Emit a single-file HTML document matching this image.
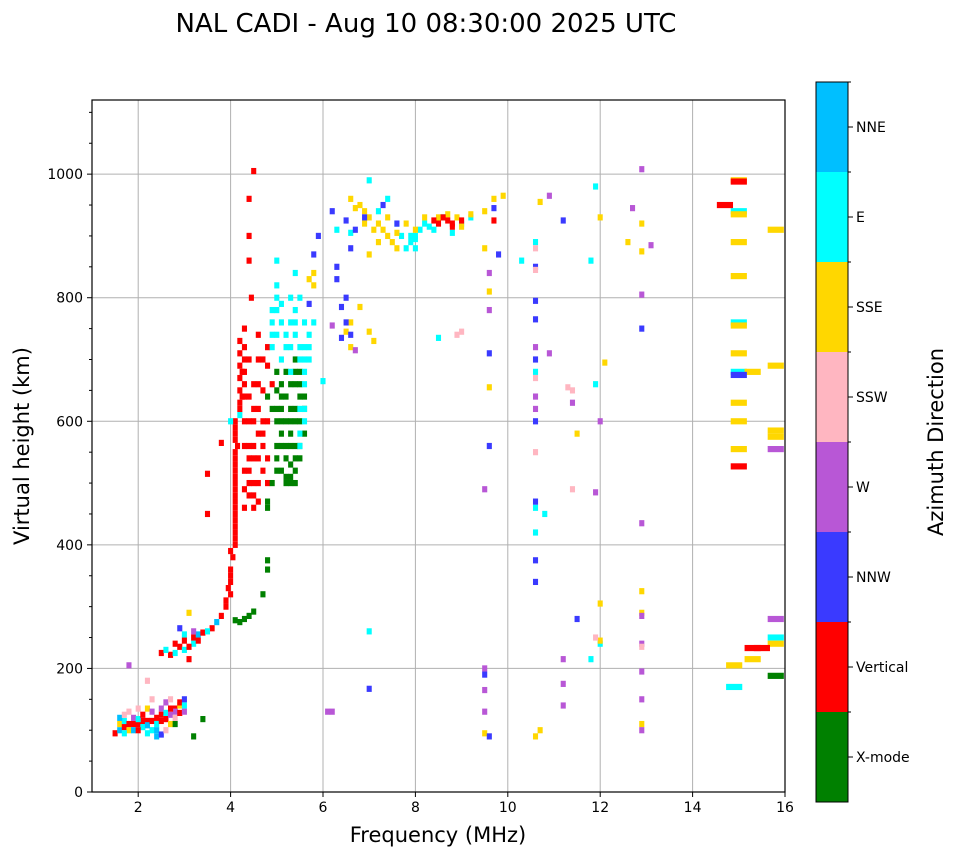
<!DOCTYPE html>
<html><head><meta charset="utf-8">
<style>
body{margin:0;background:#fff;}
svg{display:block;font-family:"DejaVu Sans","Liberation Sans",sans-serif;}
</style></head>
<body>
<svg id="chart" width="958" height="857" viewBox="0 0 958 857">
  <text x="426" y="32" font-size="26" text-anchor="middle">NAL CADI - Aug 10 08:30:00 2025 UTC</text>
  <g id="grid"></g>
  <g id="marks"></g>
  <rect x="92" y="100" width="693" height="692" fill="none" stroke="#000" stroke-width="1.2"/>
  <g id="axes"></g>
  <text x="438" y="842" font-size="21" text-anchor="middle">Frequency (MHz)</text>
  <text transform="translate(29,446) rotate(-90)" font-size="21" text-anchor="middle">Virtual height (km)</text>
  <g id="cbar"></g>
  <text transform="translate(943,442) rotate(-90)" font-size="21" text-anchor="middle">Azimuth Direction</text>
</svg>
<script>
const NS="http://www.w3.org/2000/svg";
const dirNames=["X-mode","Vertical","NNW","W","SSW","SSE","E","NNE"];
const dirColors=["#008000","#ff0000","#3a3aff","#b857d6","#ffb6c1","#ffd700","#00ffff","#00bfff"];
const xTicks=[2,4,6,8,10,12,14,16];
const yTicks=[0,200,400,600,800,1000];
// [frequency MHz, virtual height km, direction index]
const points=[
[1.5,95,1],[1.6,100,7],[1.6,110,5],[1.7,105,1],[1.7,115,6],[1.8,100,5],[1.8,130,4],[1.8,205,3],[1.9,110,1],[1.9,120,3],[2.0,110,1],[2.0,135,4],[2.1,105,6],[2.1,115,1],[2.2,115,1],[2.2,135,5],[2.2,180,4],[2.3,100,6],[2.3,130,3],[2.3,150,4],[2.4,120,1],[2.4,100,7],[2.4,90,7],[2.5,93,2],[2.5,135,3],[2.5,125,1],[2.6,120,5],[2.6,145,3],[2.6,118,1],[2.7,110,5],[2.7,150,4],[2.8,135,1],[2.8,130,3],[2.8,110,0],[2.9,140,5],[2.9,145,1],[3.0,150,2],[3.0,140,6],[3.2,90,0],[3.4,118,0],[3.1,215,1],
[1.6,120,7],[1.7,95,6],[1.8,110,1],[1.9,100,7],[2.0,118,6],[2.1,125,1],[2.2,108,7],[2.3,115,1],[2.4,110,6],[2.5,115,1],[2.6,128,6],[2.7,125,3],[2.7,135,1],[2.8,120,4],[2.9,128,1],[3.0,130,3],[2.6,100,4],[2.2,95,6],[2.0,100,1],[1.7,125,4],
[2.5,225,1],[2.7,222,1],[2.8,225,6],[2.9,235,1],[2.9,265,2],[3.0,230,6],[3.0,245,1],[3.1,290,5],[3.2,240,6],[3.2,250,1],[3.3,255,7],[3.4,258,1],[3.6,265,1],[3.7,275,7],[3.8,285,1],[3.9,300,1],[4.0,320,1],[4.0,340,1],[4.0,360,1],[4.05,380,1],[4.1,400,1],[4.1,420,1],[4.1,440,1],[4.1,460,1],[4.1,480,1],[4.1,500,1],[4.1,520,1],[4.1,540,1],[4.15,560,1],[4.1,580,1],[4.1,600,1],[4.0,600,6],[4.2,610,6],[4.2,620,1],[4.25,640,1],[4.3,660,1],[4.25,680,1],[4.3,700,1],[4.3,720,1],[4.3,750,1],[4.4,500,1],[4.5,480,1],[4.6,470,1],[4.4,540,1],[4.5,560,1],[4.7,520,1],[4.5,600,1],[4.6,620,1],[4.7,650,1],[4.8,690,1],[4.4,860,1],[4.4,960,1],[4.5,1005,1],[4.45,800,1],[3.5,515,1],[3.5,450,1],[3.8,565,1],[4.7,580,1],[4.8,500,1],[4.3,460,1],[4.6,740,1],[4.4,900,1],
[2.6,230,6],[2.8,240,1],[3.0,255,6],[3.1,235,1],[3.2,260,3],[3.3,245,1],[3.5,260,6],[3.9,310,1],[3.95,330,1],[4.0,350,1],[4.0,390,1],[4.1,410,1],[4.1,430,1],[4.1,450,1],[4.1,470,1],[4.1,490,1],[4.1,510,1],[4.1,530,1],[4.1,550,1],[4.1,570,1],[4.1,590,1],[4.2,630,1],[4.2,650,1],[4.2,670,1],[4.2,690,1],[4.2,710,1],[4.2,730,1],[4.3,640,1],[4.3,680,1],[4.3,600,1],[4.3,560,1],[4.3,520,1],[4.3,490,1],[4.4,480,1],[4.4,520,1],[4.4,560,1],[4.4,600,1],[4.4,640,1],[4.5,500,1],[4.5,460,1],[4.5,540,1],[4.5,620,1],[4.5,660,1],[4.6,500,1],[4.6,540,1],[4.6,580,1],[4.6,700,1],[4.7,560,1],[4.7,600,1],[4.7,700,1],[4.8,540,1],[4.8,600,1],[4.8,720,1],[4.9,660,1],[4.6,660,1],[4.4,700,1],
[4.1,278,0],[4.2,275,0],[4.3,280,0],[4.4,285,0],[4.5,292,0],[4.7,320,0],[4.8,360,0],[4.8,375,0],[4.8,470,0],[4.8,460,0],[5.0,520,0],[5.0,560,0],[5.1,600,0],[5.1,640,0],[5.2,510,0],[5.2,540,0],[5.3,500,0],[5.3,580,0],[5.3,620,0],[5.4,660,0],[5.4,560,0],[5.5,540,0],[5.5,600,0],[5.6,640,0],[5.5,680,0],[5.2,680,0],[5.4,700,0],[5.0,650,0],[5.1,620,0],[5.3,530,0],[5.4,520,0],[4.9,500,0],[5.6,580,0],[4.8,640,0],[15.8,188,0],
[5.0,540,0],[5.0,600,0],[5.0,620,0],[5.1,520,0],[5.1,560,0],[5.1,580,0],[5.1,660,0],[5.2,560,0],[5.2,600,0],[5.2,640,0],[5.3,510,0],[5.3,560,0],[5.3,600,0],[5.3,660,0],[5.4,540,0],[5.4,600,0],[5.4,620,0],[5.4,680,0],[5.5,560,0],[5.5,640,0],[5.5,660,0],[5.6,620,0],[5.2,500,0],[5.4,500,0],[4.9,620,0],[5.0,680,0],
[4.9,720,6],[4.9,760,6],[5.0,780,6],[5.0,820,6],[5.0,860,6],[5.1,700,6],[5.2,740,6],[5.3,760,6],[5.4,780,6],[5.5,800,6],[5.6,720,6],[5.7,700,6],[5.5,620,6],[5.6,600,6],[5.5,560,6],[5.6,660,6],[5.7,740,6],[5.4,840,6],[5.8,760,6],[6.0,665,6],[5.3,680,6],[5.1,790,6],[7.0,990,6],[7.0,260,6],[7.2,940,6],[7.4,960,6],[7.6,920,6],[7.8,880,6],[8.0,900,6],[8.2,920,6],[8.4,910,6],[8.6,930,6],[8.8,905,6],[9.0,920,6],[9.2,930,6],[8.0,880,6],[7.9,900,6],[8.5,735,6],[6.3,910,6],[6.6,905,6],[10.3,860,6],[10.6,890,6],[10.6,680,6],[10.6,460,6],[10.6,420,6],[10.8,450,6],[11.8,860,6],[11.9,660,6],[11.8,215,6],[12.0,240,6],[11.9,980,6],[15.0,940,6],[15.0,760,6],[15.0,680,6],[14.9,170,6],[15.8,250,6],
[4.9,740,6],[4.9,780,6],[5.0,740,6],[5.0,800,6],[5.1,760,6],[5.2,720,6],[5.3,720,6],[5.3,800,6],[5.4,740,6],[5.4,760,6],[5.5,720,6],[5.5,700,6],[5.6,700,6],[5.6,680,6],[5.7,720,6],[5.6,620,6],[5.5,580,6],[5.6,760,6],[7.9,890,6],[8.0,895,6],[8.1,910,6],[8.3,915,6],[7.7,900,6],
[6.6,960,5],[6.8,950,5],[7.0,930,5],[7.2,920,5],[7.4,900,5],[7.6,880,5],[7.0,870,5],[7.2,890,5],[6.9,940,5],[7.8,920,5],[8.0,910,5],[8.5,930,5],[9.0,915,5],[9.5,940,5],[9.7,960,5],[9.5,880,5],[9.6,810,5],[9.6,655,5],[9.9,965,5],[10.7,955,5],[10.7,100,5],[10.6,90,5],[9.5,95,5],[12.0,930,5],[12.1,695,5],[12.0,305,5],[12.0,245,5],[12.6,890,5],[12.9,920,5],[12.9,875,5],[12.9,325,5],[12.9,290,5],[12.9,110,5],[11.5,580,5],[15.0,990,5],[15.0,935,5],[15.0,890,5],[15.0,835,5],[15.0,755,5],[15.0,710,5],[15.0,630,5],[15.0,600,5],[15.0,555,5],[15.3,680,5],[15.8,910,5],[15.8,690,5],[15.8,585,5],[15.8,575,5],[15.8,240,5],[15.3,215,5],[14.9,205,5],[5.8,840,5],[5.7,830,5],[5.8,820,5],[6.8,785,5],[7.0,745,5],[7.1,730,5],[6.6,720,5],[6.5,745,5],[6.6,760,5],
[6.7,945,5],[6.9,920,5],[7.1,910,5],[7.3,910,5],[7.5,890,5],[7.4,930,5],[7.6,905,5],[8.2,930,5],[8.7,935,5],[8.9,930,5],[9.2,935,5],
[6.2,940,2],[6.3,850,2],[6.3,830,2],[6.4,785,2],[6.5,800,2],[6.5,760,2],[6.4,735,2],[6.6,740,2],[6.5,925,2],[6.6,880,2],[6.9,930,2],[7.3,950,2],[7.6,920,2],[5.8,870,2],[5.9,900,2],[9.7,945,2],[9.8,870,2],[9.6,710,2],[9.6,560,2],[10.6,850,2],[10.6,795,2],[10.6,765,2],[10.6,700,2],[10.6,600,2],[10.6,470,2],[10.6,375,2],[10.6,340,2],[11.2,925,2],[11.5,280,2],[12.9,750,2],[15.0,675,2],[9.5,190,2],[9.6,90,2],[7.0,167,2],[5.7,790,2],[6.7,910,2],
[6.1,130,3],[6.2,130,3],[6.2,755,3],[6.7,715,3],[9.5,200,3],[9.5,165,3],[9.5,130,3],[9.6,840,3],[9.6,780,3],[9.5,490,3],[10.6,720,3],[10.6,620,3],[10.6,640,3],[10.9,965,3],[10.9,710,3],[11.2,215,3],[11.2,175,3],[11.2,140,3],[11.4,630,3],[11.9,485,3],[12.0,600,3],[12.7,945,3],[12.9,1008,3],[12.9,805,3],[12.9,435,3],[12.9,285,3],[12.9,240,3],[12.9,195,3],[12.9,150,3],[12.9,100,3],[13.1,885,3],[15.8,555,3],[15.8,280,3],
[9.0,745,4],[8.9,740,4],[10.6,880,4],[10.6,845,4],[10.6,670,4],[10.6,550,4],[11.3,655,4],[11.4,650,4],[11.4,490,4],[11.9,250,4],[12.9,235,4],
[8.4,925,1],[8.6,930,1],[8.8,920,1],[9.0,925,1],[8.8,915,1],[8.5,920,1],[8.7,925,1],[15.0,988,1],[15.0,527,1],[15.3,233,1],[15.5,233,1],[14.7,950,1],[9.7,925,1]
];
const X0=92,X1=785,Y0=792,Y1=100;
const xScale=f=>X0+(f-1)/(16-1)*(X1-X0);
const yScale=h=>Y0-h/1120*(Y0-Y1);
function mk(tag,attrs,parent){const e=document.createElementNS(NS,tag);for(const k in attrs)e.setAttribute(k,attrs[k]);parent.appendChild(e);return e;}
const grid=document.getElementById('grid'),axes=document.getElementById('axes'),marks=document.getElementById('marks'),cbar=document.getElementById('cbar');
xTicks.forEach(t=>{
  const x=xScale(t);
  if(t<16){const g=mk('line',{x1:x,x2:x,y1:Y1,y2:Y0,stroke:'#b0b0b0','stroke-width':1},grid);
  
  }
  const tk=mk('line',{x1:x,x2:x,y1:Y0,y2:Y0+5,stroke:'#000'},axes);
  
  
  const lb=mk('text',{x:x,y:Y0+20,'font-size':14,'text-anchor':'middle'},axes);lb.textContent=t;
  
  
});
for(let h=50;h<1120;h+=100){const y=yScale(h);mk('line',{x1:X0-3,x2:X0,y1:y,y2:y,stroke:'#000'},axes);}
for(let h=100;h<1120;h+=200){const y=yScale(h);mk('line',{x1:X0-3,x2:X0,y1:y,y2:y,stroke:'#000'},axes);}
yTicks.forEach(t=>{
  const y=yScale(t);
  if(t>0){const g=mk('line',{x1:X0,x2:X1,y1:y,y2:y,stroke:'#b0b0b0','stroke-width':1},grid);
  
  }
  const tk=mk('line',{x1:X0-5,x2:X0,y1:y,y2:y,stroke:'#000'},axes);
  
  
  const lb=mk('text',{x:X0-9,y:y+5,'font-size':14,'text-anchor':'end'},axes);lb.textContent=t;
  
  
});
points.forEach(p=>{
  const wf=p[0]>14?0.35:0.11;
  const x=xScale(p[0]-wf/2),w=xScale(p[0]+wf/2)-x;
  const y=yScale(p[1]+5),hh=yScale(p[1]-5)-y;
  const r=mk('rect',{x:x,y:y,width:w,height:hh,fill:dirColors[p[2]]},marks);
  
  
});
const CX=816,CW=32,CT=82,CB=802,ch=(CB-CT)/dirNames.length;
dirNames.forEach((n,i)=>{
  const y=CB-(i+1)*ch;
  const r=mk('rect',{x:CX,y:y,width:CW,height:ch,fill:dirColors[i]},cbar);
  
  
  mk('line',{x1:CX+CW,x2:CX+CW+5,y1:y+ch/2,y2:y+ch/2,stroke:'#000'},cbar);
  mk('line',{x1:CX+CW,x2:CX+CW+3,y1:y,y2:y,stroke:'#000'},cbar);
  const t=mk('text',{x:CX+CW+8,y:y+ch/2+5,'font-size':14},cbar);t.textContent=n;
  
  
});
mk('rect',{x:CX,y:CT,width:CW,height:CB-CT,fill:'none',stroke:'#000','stroke-width':1},cbar);
</script>
</body></html>
